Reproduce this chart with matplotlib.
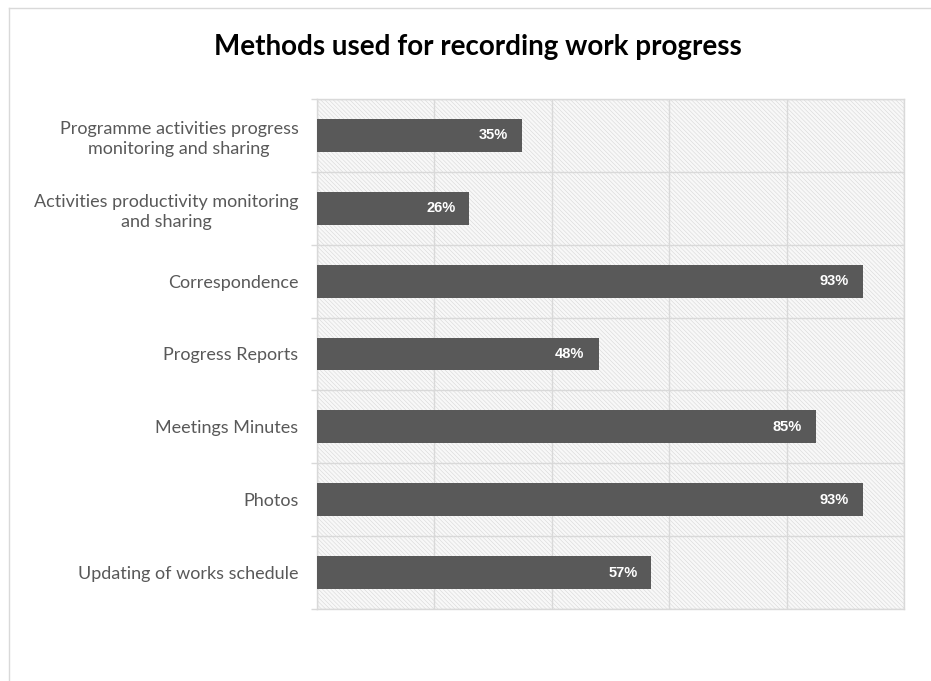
import matplotlib
matplotlib.use("Agg")
import matplotlib.pyplot as plt
from matplotlib.patches import Rectangle
from matplotlib.lines import Line2D
import numpy as np

categories = [
    "Programme activities progress\nmonitoring and sharing",
    "Activities productivity monitoring\nand sharing",
    "Correspondence",
    "Progress Reports",
    "Meetings Minutes",
    "Photos",
    "Updating of works schedule",
]
values = [0.35, 0.26, 0.93, 0.48, 0.85, 0.93, 0.57]
value_labels = ["35%", "26%", "93%", "48%", "85%", "93%", "57%"]
title = "Methods used for recording work progress"

W, H = 931, 681
plt.rcParams['hatch.linewidth'] = 0.4
plt.rcParams['hatch.color'] = '#d8d8d8'

fig = plt.figure(figsize=(W / 100, H / 100), dpi=100)
fig.patch.set_facecolor('white')

# outer chart border
fig.add_artist(Line2D([9 / W, 9 / W], [0, 1 - 8 / H], transform=fig.transFigure, color='#d9d9d9', lw=1))
fig.add_artist(Line2D([9 / W, 1], [1 - 8 / H, 1 - 8 / H], transform=fig.transFigure, color='#d9d9d9', lw=1))

left, right, top, bottom = 316.5, 904, 99, 609
ax = fig.add_axes([left / W, 1 - bottom / H, (right - left) / W, (bottom - top) / H])
ax.set_facecolor('white')
bg = Rectangle((0, 0), 1, 1, transform=ax.transAxes, facecolor='#f8f8f8',
               edgecolor='#d8d8d8', hatch='\\\\\\\\\\\\\\\\', lw=0, zorder=0)
ax.add_patch(bg)

n = len(categories)
y = np.arange(n)
ax.barh(y, values, height=0.45, color='#595959', zorder=3)
ax.set_xlim(0, 1)
ax.set_ylim(n - 0.5, -0.5)

for yi, v, lab in zip(y, values, value_labels):
    ax.annotate(lab, xy=(v, yi), xytext=(-10, 0), textcoords='offset points',
                ha='right', va='center', color='white', fontsize=10.5,
                fontweight='bold', family='Liberation Sans', zorder=4)

# grid
ax.set_xticks(np.arange(0, 1.01, 0.2))
ax.set_xticklabels([])
ax.tick_params(axis='x', length=0)
ax.grid(axis='x', color='#d9d9d9', lw=1, zorder=1)

ax.set_yticks(np.arange(-0.5, n, 1.0))
ax.set_yticklabels([])
ax.tick_params(axis='y', which='major', length=4, color='#d9d9d9', width=1)
ax.grid(axis='y', which='major', color='#d9d9d9', lw=1, zorder=1)
ax.set_yticks(y, minor=True)
ax.set_yticklabels(categories, minor=True)
ax.tick_params(axis='y', which='minor', length=0, pad=13, labelsize=13, labelcolor='#595959')
for tl in ax.get_yticklabels(minor=True):
    tl.set_family('Lato')
    tl.set_multialignment('center')
    tl.set_linespacing(1.3)

for s in ax.spines.values():
    s.set_color('#d9d9d9')
    s.set_linewidth(1)
    s.set_zorder(2)

fig.text(477.5 / W, 1 - 47 / H, title, ha='center', va='center', fontsize=20,
         fontweight='bold', family='Lato', color='black')

fig.savefig('out.png', dpi=100)
